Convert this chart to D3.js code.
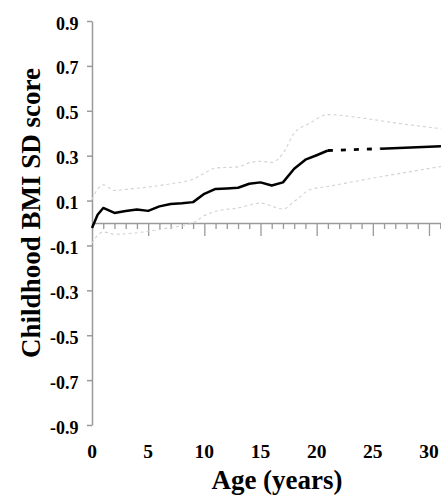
<!DOCTYPE html>
<html>
<head>
<meta charset="utf-8">
<script src="https://cdn.jsdelivr.net/npm/d3@7"></script>
<style>
  html, body { margin: 0; padding: 0; background: #fff; }
  svg { display: block; }
  text { font-family: "Liberation Serif", "Times New Roman", serif; font-weight: bold; fill: #000; }
</style>
</head>
<body>
<script>
// Mean childhood BMI SD score by age (solid up to 21 years)
const ages  = [0, 0.5, 1, 2, 3, 4, 5, 6, 7, 8, 9, 10, 11, 12, 13, 14, 15, 16, 17, 18, 19, 20, 21];
const bmiSd = [-0.022, 0.037, 0.067, 0.045, 0.053, 0.060, 0.054, 0.074, 0.085, 0.088, 0.093, 0.130, 0.152, 0.154, 0.157, 0.175, 0.181, 0.167, 0.181, 0.242, 0.282, 0.302, 0.323];

// Adult extension: dotted bridge, then solid
const bridgeAges = [21, 25.7];
const bridgeSd   = [0.323, 0.331];
const adultAges  = [25.7, 31.1];
const adultSd    = [0.331, 0.342];

// Confidence bounds
const upperAges = [0, 0.5, 1, 2, 3, 5, 7, 9, 10, 11, 13, 14, 15, 16, 17, 18, 19.4, 21, 24, 27, 31.1];
const upperSd   = [0.105, 0.150, 0.170, 0.145, 0.150, 0.160, 0.175, 0.195, 0.222, 0.245, 0.250, 0.268, 0.275, 0.270, 0.310, 0.400, 0.445, 0.483, 0.468, 0.446, 0.420];
const lowerAges = [0, 0.5, 1, 2, 3, 5, 7, 9, 10, 11, 13, 15, 16, 17, 18, 19.4, 21, 25, 31.1];
const lowerSd   = [-0.090, -0.055, -0.040, -0.050, -0.048, -0.037, -0.020, 0.000, 0.033, 0.052, 0.067, 0.089, 0.075, 0.062, 0.096, 0.148, 0.163, 0.200, 0.252];

// Axis ticks
const yTicks = [0.9, 0.7, 0.5, 0.3, 0.1, -0.1, -0.3, -0.5, -0.7, -0.9];
const xMajorTicks = [0, 5, 10, 15, 20, 25, 30];
const xMinorTicks = d3.range(1, 32).filter(v => v % 5 !== 0);

const W = 441, H = 499;
const serif = '"Liberation Serif", "Times New Roman", serif';
const svg = d3.select("body").append("svg").attr("width", W).attr("height", H);

const x = d3.scaleLinear().domain([0, 31.07]).range([92, 441]);
const y = d3.scaleLinear().domain([-0.9, 0.9]).range([425, 21]);

const axisColor = "#9a9a9a";

// Y axis (ticks to the left); labels use a plain hyphen for negatives
const yAxis = svg.append("g").attr("transform", `translate(${x(0)},0)`)
  .call(d3.axisLeft(y).tickValues(yTicks).tickSize(5).tickSizeOuter(0)
    .tickFormat(d => d.toFixed(1)));
yAxis.attr("font-family", serif).attr("font-size", 18);
yAxis.select(".domain").attr("stroke", axisColor).attr("stroke-width", 1.5);
yAxis.selectAll(".tick line").attr("stroke", axisColor).attr("stroke-width", 1.5);
yAxis.selectAll(".tick text")
  .attr("x", -13.5).attr("dy", "0.45em")
  .style("font-size", "18px").style("font-family", serif)
  .style("font-weight", "bold").attr("fill", "#000");

// X axis at zero with long major and short minor ticks hanging below
const xAxisG = svg.append("g").attr("transform", `translate(0,${y(0)})`);
const xMinor = xAxisG.append("g")
  .call(d3.axisBottom(x).tickValues(xMinorTicks).tickSize(6).tickSizeOuter(0).tickFormat(""));
xMinor.select(".domain").attr("stroke", axisColor).attr("stroke-width", 1.5);
xMinor.selectAll(".tick line").attr("stroke", axisColor).attr("stroke-width", 1.3);
const xMajor = xAxisG.append("g")
  .call(d3.axisBottom(x).tickValues(xMajorTicks.filter(v => v > 0)).tickSize(13).tickSizeOuter(0).tickFormat(""));
xMajor.select(".domain").remove();
xMajor.selectAll(".tick line").attr("stroke", axisColor).attr("stroke-width", 1.3);

// X tick labels sit below the plot
svg.append("g").selectAll("text").data(xMajorTicks).join("text")
  .attr("x", d => x(d)).attr("y", 458)
  .attr("text-anchor", "middle")
  .style("font-size", "19.5px").style("font-family", serif)
  .text(d => d);

// Confidence bounds
const smooth = d3.line().x(d => x(d[0])).y(d => y(d[1])).curve(d3.curveMonotoneX);
[[upperAges, upperSd], [lowerAges, lowerSd]].forEach(([a, v]) => {
  svg.append("path")
    .datum(a.map((d, i) => [d, v[i]]))
    .attr("d", smooth)
    .attr("fill", "none")
    .attr("stroke", "#d2d2d2")
    .attr("stroke-width", 1.1)
    .attr("stroke-dasharray", "3,3");
});

// Mean line
const straight = d3.line().x(d => x(d[0])).y(d => y(d[1]));

svg.append("path")
  .datum(ages.map((d, i) => [d, bmiSd[i]]))
  .attr("d", straight)
  .attr("fill", "none").attr("stroke", "#000").attr("stroke-width", 2.5)
  .attr("stroke-linejoin", "round");

svg.append("path")
  .datum(bridgeAges.map((d, i) => [d, bridgeSd[i]]))
  .attr("d", straight)
  .attr("fill", "none").attr("stroke", "#000").attr("stroke-width", 2.8)
  .attr("stroke-dasharray", "5,8");

svg.append("path")
  .datum(adultAges.map((d, i) => [d, adultSd[i]]))
  .attr("d", straight)
  .attr("fill", "none").attr("stroke", "#000").attr("stroke-width", 2.5);

// Axis titles
svg.append("text")
  .attr("transform", `translate(39.5,${213}) rotate(-90)`)
  .attr("text-anchor", "middle")
  .style("font-size", "27px").style("font-family", serif)
  .text("Childhood BMI SD score");

svg.append("text")
  .attr("x", 277).attr("y", 489)
  .attr("text-anchor", "middle")
  .style("font-size", "27px").style("font-family", serif)
  .text("Age (years)");
</script>
</body>
</html>
